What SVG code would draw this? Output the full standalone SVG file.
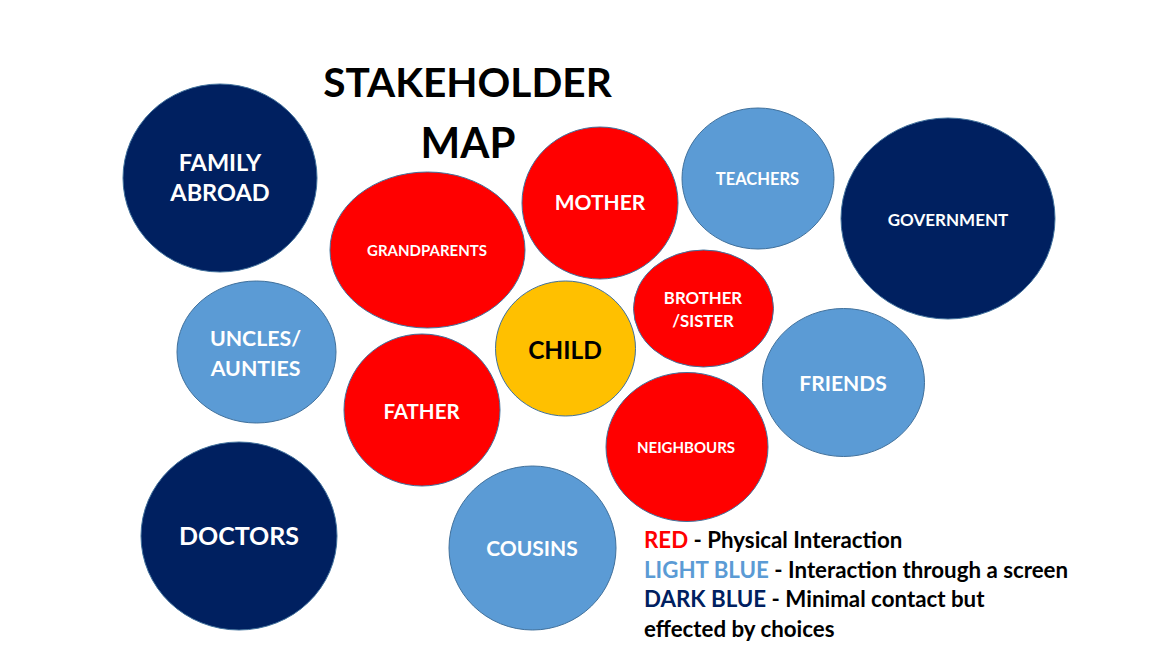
<svg xmlns="http://www.w3.org/2000/svg" width="1167" height="662" viewBox="0 0 1167 662">
<style>
text{font-family:Lato,"Liberation Sans",sans-serif;font-weight:bold;text-anchor:middle}
.n ellipse{stroke:#41719C;stroke-width:1}
.red{fill:#FF0000}.lb{fill:#5B9BD5}.db{fill:#002060}.yl{fill:#FFC000}
.w{fill:#FFFFFF}
.leg{text-anchor:start;font-size:22.3px;fill:#000000}
</style>
<rect width="1167" height="662" fill="#FFFFFF"/>
<g id="title">
<text x="467.5" y="97" font-size="40.6">STAKEHOLDER</text>
<text x="468" y="158" font-size="42">MAP</text>
</g>
<g id="connectors"/>
<g id="family-abroad" class="n"><ellipse class="db" cx="220" cy="178" rx="97" ry="94"/><text class="w" x="220" y="171" font-size="23.5">FAMILY</text><text class="w" x="220" y="201" font-size="23.5">ABROAD</text></g>
<g id="grandparents" class="n"><ellipse class="red" cx="427.5" cy="250" rx="97.5" ry="78"/><text class="w" x="427" y="256" font-size="15">GRANDPARENTS</text></g>
<g id="mother" class="n"><ellipse class="red" cx="600" cy="203" rx="78" ry="76"/><text class="w" x="600" y="210" font-size="21">MOTHER</text></g>
<g id="teachers" class="n"><ellipse class="lb" cx="758" cy="178.5" rx="76" ry="70.5"/><text class="w" x="757.5" y="185" font-size="16.5">TEACHERS</text></g>
<g id="government" class="n"><ellipse class="db" cx="948" cy="218.5" rx="107" ry="100.5"/><text class="w" x="948" y="226" font-size="17">GOVERNMENT</text></g>
<g id="uncles-aunties" class="n"><ellipse class="lb" cx="256.5" cy="352" rx="79.5" ry="71"/><text class="w" x="255.5" y="346" font-size="21.3">UNCLES/</text><text class="w" x="255.5" y="376" font-size="21.3">AUNTIES</text></g>
<g id="child" class="n"><ellipse class="yl" cx="565.5" cy="348.5" rx="70" ry="67.5"/><text x="565" y="359" font-size="24.5" fill="#000000">CHILD</text></g>
<g id="brother-sister" class="n"><ellipse class="red" cx="703.5" cy="308.5" rx="70" ry="58.5"/><text class="w" x="703" y="304" font-size="16.8">BROTHER</text><text class="w" x="703" y="327" font-size="16.8">/SISTER</text></g>
<g id="friends" class="n"><ellipse class="lb" cx="843.5" cy="382.5" rx="81" ry="74"/><text class="w" x="843" y="391" font-size="21">FRIENDS</text></g>
<g id="father" class="n"><ellipse class="red" cx="422" cy="410" rx="78" ry="76"/><text class="w" x="421.5" y="419" font-size="20.5">FATHER</text></g>
<g id="neighbours" class="n"><ellipse class="red" cx="687" cy="447" rx="81" ry="74.5"/><text class="w" x="686" y="453" font-size="15">NEIGHBOURS</text></g>
<g id="doctors" class="n"><ellipse class="db" cx="239" cy="536" rx="98" ry="94"/><text class="w" x="239" y="545" font-size="25">DOCTORS</text></g>
<g id="cousins" class="n"><ellipse class="lb" cx="532.5" cy="548" rx="83.5" ry="82"/><text class="w" x="532" y="556" font-size="21">COUSINS</text></g>
<g id="legend">
<text class="leg" x="644" y="548"><tspan fill="#FF0000">RED</tspan> - Physical Interaction</text>
<text class="leg" x="644" y="578"><tspan fill="#5B9BD5">LIGHT BLUE</tspan> - Interaction through a screen</text>
<text class="leg" x="644" y="607"><tspan fill="#002060">DARK BLUE</tspan> - Minimal contact but</text>
<text class="leg" x="644" y="637">effected by choices</text>
</g>
</svg>
